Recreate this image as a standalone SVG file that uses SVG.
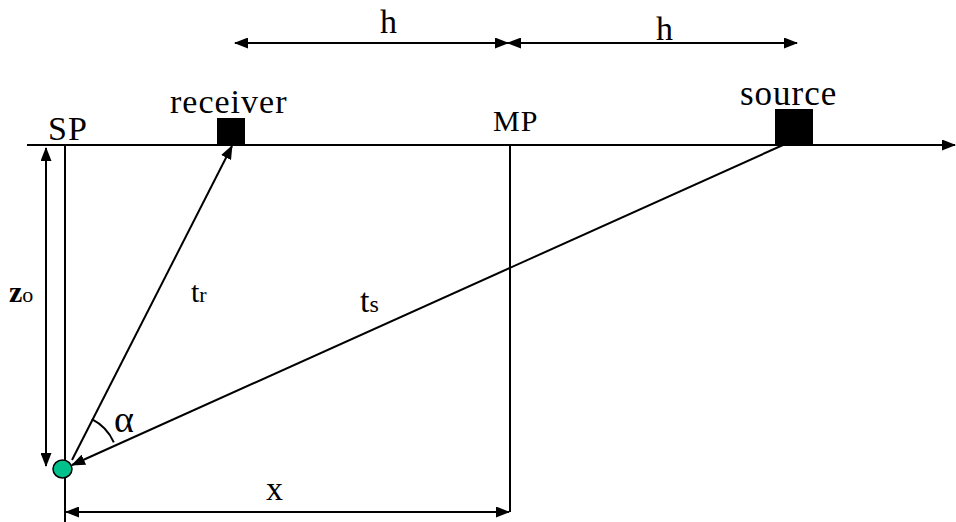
<svg xmlns="http://www.w3.org/2000/svg" width="956" height="522" viewBox="0 0 956 522">
<style>
.ln{stroke:#000;stroke-width:2;fill:none}
text{font-family:"Liberation Serif","Times New Roman","DejaVu Serif",serif;fill:#000}
</style>
<defs>
<marker id="ah" markerWidth="14" markerHeight="11" refX="13" refY="5.5" orient="auto-start-reverse" markerUnits="userSpaceOnUse">
<path d="M0,0 L14,5.5 L0,11 Z" fill="#000"/>
</marker>
</defs>
<rect width="956" height="522" fill="#fff"/>
<g id="connectors">
<line class="ln" x1="27" y1="145" x2="955" y2="145" marker-end="url(#ah)"/>
<line class="ln" x1="65" y1="145" x2="65" y2="522"/>
<line class="ln" x1="510" y1="145" x2="510" y2="512"/>
<line class="ln" x1="46" y1="148" x2="46" y2="466" marker-start="url(#ah)" marker-end="url(#ah)"/>
<line class="ln" x1="66" y1="512" x2="509" y2="512" marker-start="url(#ah)" marker-end="url(#ah)"/>
<line class="ln" x1="235" y1="43" x2="508" y2="43" marker-start="url(#ah)" marker-end="url(#ah)"/>
<line class="ln" x1="508" y1="43" x2="797" y2="43" marker-start="url(#ah)" marker-end="url(#ah)"/>
<line class="ln" x1="72" y1="460" x2="232" y2="146" marker-end="url(#ah)"/>
<line class="ln" x1="783" y1="145" x2="72" y2="465" marker-end="url(#ah)"/>
<path class="ln" d="M91.8,419.2 A48,48 0 0 1 113.8,442.3"/>
</g>
<g id="receiver">
<rect x="217" y="118" width="28" height="27" fill="#000"/>
<text x="170" y="113" font-size="34" letter-spacing="1">receiver</text>
</g>
<g id="source">
<rect x="775" y="109" width="38" height="36" fill="#000"/>
<text x="740" y="105" font-size="35" letter-spacing="1">source</text>
</g>
<g id="sp">
<text x="48" y="140" font-size="34" letter-spacing="1">SP</text>
</g>
<g id="mp">
<text x="493" y="131" font-size="30" letter-spacing="1">MP</text>
</g>
<g id="point">
<ellipse cx="62.5" cy="469" rx="9.5" ry="9" fill="#00c08c" stroke="#000" stroke-width="1.5"/>
</g>
<g id="labels">
<text x="380" y="33" font-size="34">h</text>
<text x="656" y="40" font-size="34">h</text>
<text x="9" y="302" font-size="30" font-weight="bold">z<tspan font-size="22" font-weight="normal">o</tspan></text>
<text x="191" y="302" font-size="30">t<tspan font-size="22">r</tspan></text>
<text x="360" y="312" font-size="34">t<tspan font-size="24">s</tspan></text>
<text x="114" y="432" font-size="38">α</text>
<text x="266" y="500" font-size="34">x</text>
</g>
</svg>
